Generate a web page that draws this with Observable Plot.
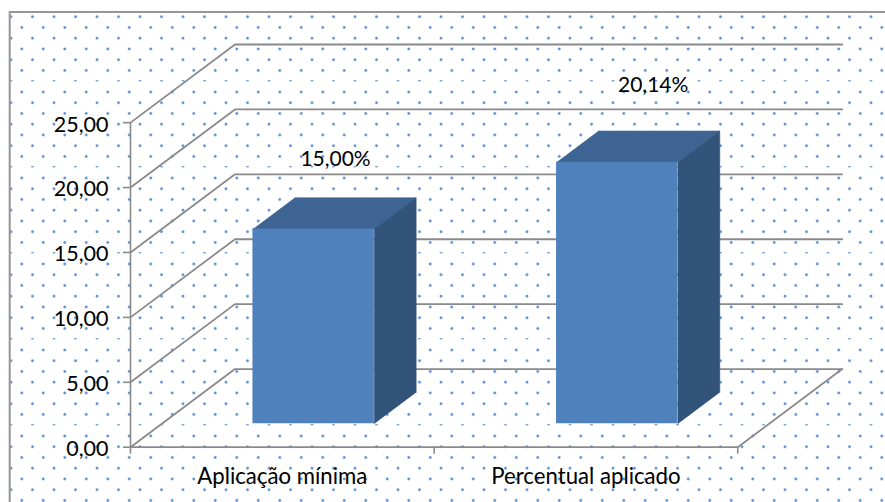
<!DOCTYPE html>
<html>
<head>
<meta charset="utf-8">
<script src="https://cdn.jsdelivr.net/npm/d3@7"></script>
<script src="https://cdn.jsdelivr.net/npm/@observablehq/plot@0.6"></script>
<style>
  html, body { margin: 0; padding: 0; background: #fff; overflow: hidden; }
  #chart { position: relative; width: 885px; height: 502px; }
  #chart > svg { position: absolute; left: 0; top: 0; }
</style>
</head>
<body>
<div id="chart">
  <svg id="paper" width="885" height="502">
    <defs>
      <radialGradient id="halo">
        <stop offset="0" stop-color="#4f86cc"/>
        <stop offset="0.35" stop-color="#6a9ad6"/>
        <stop offset="0.62" stop-color="#cfdff3"/>
        <stop offset="1" stop-color="#ffffff" stop-opacity="0"/>
      </radialGradient>
    </defs>
    <g id="texture"></g>
    <path d="M885 12H9.7V502" fill="none" stroke="#969696" stroke-width="2"/>
  </svg>
</div>
<script>
const categories = ["Aplicação mínima", "Percentual aplicado"];
const values = [15.0, 20.14];
const yTicks = [0, 5, 10, 15, 20, 25];
const xTicks = [0, 1, 2];
const xLabelTicks = [0.5, 1.5];

// Decorative dotted paper behind the chart
const texture = d3.select("#texture");
for (let row = 0; 16.7 + (row - 1) * 10.75 < 510; row++) {
  const cy = 16.7 + row * 10.75;
  for (let cx = row % 2 ? 21.75 : 11; cx < 890; cx += 21.5) {
    if (row % 8 === 6) {
      texture.append("ellipse").attr("cx", cx).attr("cy", cy - 0.4).attr("rx", 1.6).attr("ry", 0.7).attr("fill", "#6f9cd6");
    } else {
      texture.append("circle").attr("cx", cx).attr("cy", cy).attr("r", 2.5).attr("fill", "url(#halo)");
    }
  }
}

// Oblique projection of the 3D chart box, in data units
const wallX = 0.344;
const wallY = 6.02;
const barLeft = 0.3, barRight = 0.7;
const barFront = 0.3, barBack = 0.7;

const px = (c, z) => c + z * wallX;
const py = (v, z) => v + z * wallY;

const gridLines = yTicks.flatMap((t) => [
  {id: t, x: px(0, 0), y: py(t, 0)},
  {id: t, x: px(0, 1), y: py(t, 1)},
  {id: t, x: px(2, 1), y: py(t, 1)}
]);
const floorEdge = [
  {x: px(0, 0), y: py(0, 0)},
  {x: px(2, 0), y: py(0, 0)},
  {x: px(2, 1), y: py(0, 1)}
];
const bars = values.map((v, i) => ({i, v, x1: px(i + barLeft, barFront), x2: px(i + barRight, barFront), y1: py(0, barFront), y2: py(v, barFront)}));
const topFaces = values.flatMap((v, i) => [
  [i + barLeft, barFront], [i + barRight, barFront], [i + barRight, barBack], [i + barLeft, barBack]
].map(([c, z]) => ({id: i, x: px(c, z), y: py(v, z)})));
const sideFaces = values.flatMap((v, i) => [
  [0, barFront], [v, barFront], [v, barBack], [0, barBack]
].map(([h, z]) => ({id: i, x: px(i + barRight, z), y: py(h, z)})));

const comma = (v) => v.toFixed(2).replace(".", ",");
const barLabel = (i, dx, dy) => Plot.text([i], {
  x: (k) => px(k + 0.5, 0.5),
  y: (k) => py(values[k], 0.5),
  text: (k) => comma(values[k]) + "%",
  dx, dy, fontSize: 21, fill: "#000", textAnchor: "middle"
});

const plot = Plot.plot({
  width: 885,
  height: 502,
  marginLeft: 130,
  marginRight: 43.3,
  marginTop: 44,
  marginBottom: 55.3,
  style: {background: "transparent", fontFamily: "Lato, Carlito, sans-serif", overflow: "visible"},
  x: {type: "linear", domain: [0, 2 + wallX], axis: null},
  y: {type: "linear", domain: [0, 25 + wallY], axis: null},
  marks: [
    Plot.line(gridLines, {x: "x", y: "y", z: "id", stroke: "#8a8a8a", strokeWidth: 1.8}),
    Plot.line(floorEdge, {x: "x", y: "y", stroke: "#8a8a8a", strokeWidth: 1.8}),
    Plot.axisY({ticks: yTicks, tickFormat: null, text: null, tickSize: 7, stroke: "#8a8a8a", strokeWidth: 1.6, label: null}),
    Plot.axisY({ticks: yTicks, tickFormat: comma, tickSize: 0, tickPadding: 22, dy: 2, stroke: "none", fill: "#000", fontSize: 21.5, label: null}),
    Plot.ruleX([0], {y1: 0, y2: 25, stroke: "#8a8a8a", strokeWidth: 1.6}),
    Plot.axisX({ticks: xTicks, tickFormat: () => "", tickSize: 7, stroke: "#8a8a8a", strokeWidth: 1.6, label: null}),
    Plot.axisX({ticks: xLabelTicks, tickFormat: (d) => categories[Math.floor(d)], tickSize: 0, tickPadding: 21, stroke: "none", fill: "#000", fontSize: 22.2, label: null}),
    Plot.line(topFaces, {x: "x", y: "y", z: "id", fill: "#3e6493", stroke: "#3e6493", strokeWidth: 0.6}),
    Plot.line(sideFaces, {x: "x", y: "y", z: "id", fill: "#32537a", stroke: "#32537a", strokeWidth: 0.6}),
    Plot.rect(bars, {x1: "x1", x2: "x2", y1: "y1", y2: "y2", fill: "#4f81bd"}),
    barLabel(0, 1, -54),
    barLabel(1, 15, -61)
  ]
});
document.getElementById("chart").appendChild(plot);
</script>
</body>
</html>
